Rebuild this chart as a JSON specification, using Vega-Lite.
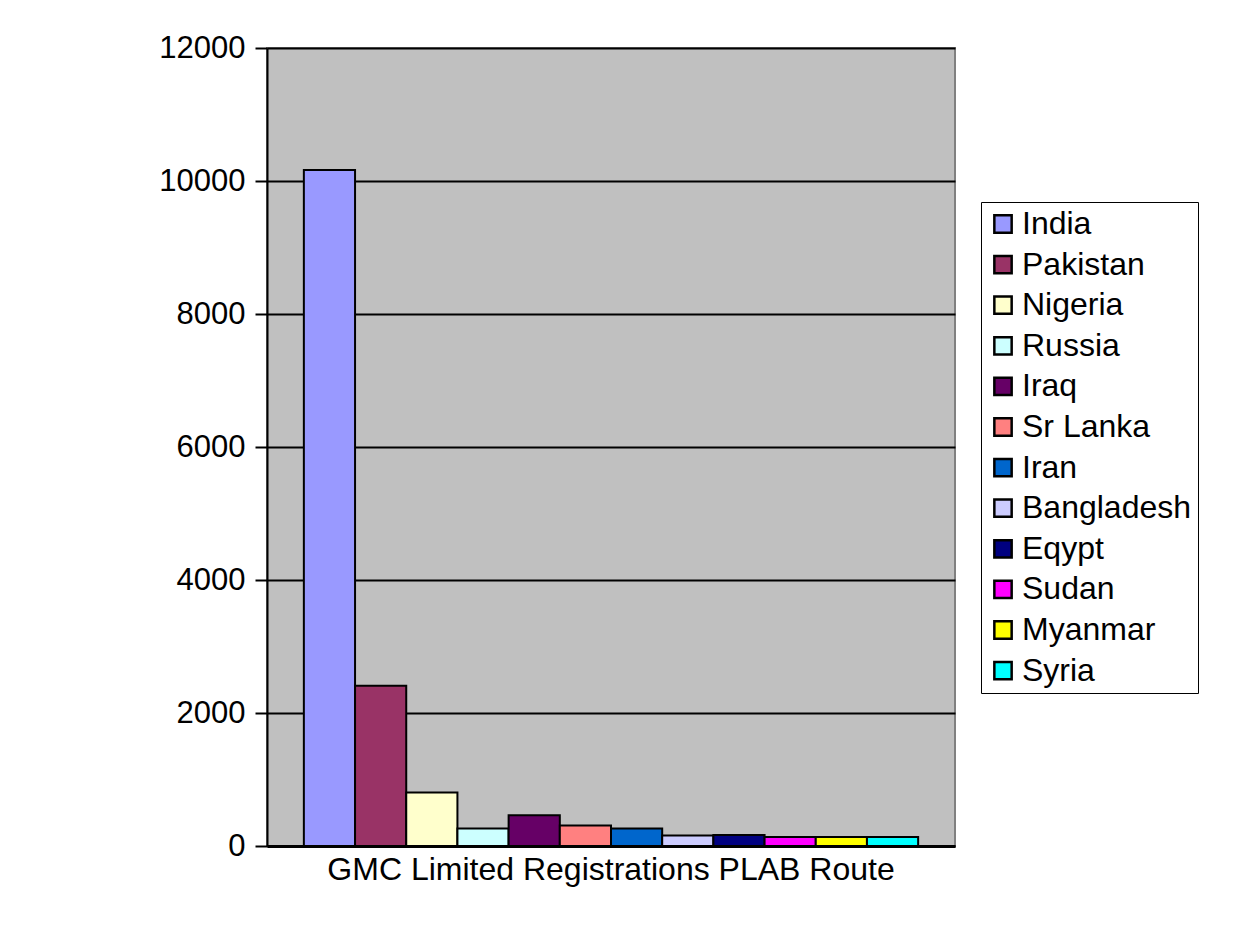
{
  "$schema": "https://vega.github.io/schema/vega-lite/v6.json",
  "autosize": {"type": "none"},
  "padding": {"left": 267, "top": 48, "right": 281, "bottom": 80},
  "width": 688,
  "height": 798,
  "background": "white",
  "config": {
    "view": {"fill": "#C0C0C0", "stroke": "#808080", "strokeWidth": 2},
    "font": "Liberation Sans"
  },
  "data": {
    "values": [
      {"route": "GMC Limited Registrations PLAB Route", "country": "India", "count": 10165},
      {"route": "GMC Limited Registrations PLAB Route", "country": "Pakistan", "count": 2410},
      {"route": "GMC Limited Registrations PLAB Route", "country": "Nigeria", "count": 805},
      {"route": "GMC Limited Registrations PLAB Route", "country": "Russia", "count": 263},
      {"route": "GMC Limited Registrations PLAB Route", "country": "Iraq", "count": 461},
      {"route": "GMC Limited Registrations PLAB Route", "country": "Sr Lanka", "count": 309},
      {"route": "GMC Limited Registrations PLAB Route", "country": "Iran", "count": 263},
      {"route": "GMC Limited Registrations PLAB Route", "country": "Bangladesh", "count": 157},
      {"route": "GMC Limited Registrations PLAB Route", "country": "Eqypt", "count": 167},
      {"route": "GMC Limited Registrations PLAB Route", "country": "Sudan", "count": 137},
      {"route": "GMC Limited Registrations PLAB Route", "country": "Myanmar", "count": 137},
      {"route": "GMC Limited Registrations PLAB Route", "country": "Syria", "count": 137}
    ]
  },
  "mark": {"type": "bar", "stroke": "black", "strokeWidth": 2},
  "encoding": {
    "x": {
      "field": "route",
      "type": "nominal",
      "scale": {"paddingInner": 0, "paddingOuter": 0.06},
      "axis": {
        "title": null,
        "labelAngle": 0,
        "labelFontSize": 32,
        "labelColor": "black",
        "labelLimit": 1000,
        "ticks": false,
        "domainColor": "black",
        "domainWidth": 3,
        "labelPadding": 8
      }
    },
    "xOffset": {
      "field": "country",
      "type": "nominal",
      "sort": ["India", "Pakistan", "Nigeria", "Russia", "Iraq", "Sr Lanka", "Iran", "Bangladesh", "Eqypt", "Sudan", "Myanmar", "Syria"],
      "scale": {"paddingInner": 0, "paddingOuter": 0}
    },
    "y": {
      "field": "count",
      "type": "quantitative",
      "scale": {"domain": [0, 12000]},
      "axis": {
        "title": null,
        "format": "d",
        "values": [0, 2000, 4000, 6000, 8000, 10000, 12000],
        "grid": true,
        "gridColor": "black",
        "gridWidth": 2,
        "gridOpacity": 1,
        "domainColor": "black",
        "domainWidth": 2,
        "tickColor": "black",
        "tickWidth": 2,
        "tickSize": 12,
        "labelPadding": 10,
        "labelFontSize": 31,
        "labelColor": "black"
      }
    },
    "color": {
      "field": "country",
      "type": "nominal",
      "sort": ["India", "Pakistan", "Nigeria", "Russia", "Iraq", "Sr Lanka", "Iran", "Bangladesh", "Eqypt", "Sudan", "Myanmar", "Syria"],
      "scale": {
        "domain": ["India", "Pakistan", "Nigeria", "Russia", "Iraq", "Sr Lanka", "Iran", "Bangladesh", "Eqypt", "Sudan", "Myanmar", "Syria"],
        "range": ["#9999FF", "#993366", "#FFFFCC", "#CCFFFF", "#660066", "#FF8080", "#0066CC", "#CCCCFF", "#000080", "#FF00FF", "#FFFF00", "#00FFFF"]
      },
      "legend": {
        "orient": "none",
        "legendX": 714,
        "legendY": 154,
        "title": null,
        "symbolType": "square",
        "symbolSize": 300,
        "symbolStrokeColor": "black",
        "symbolStrokeWidth": 2.5,
        "symbolOpacity": 1,
        "labelFontSize": 32,
        "labelColor": "black",
        "labelLimit": 400,
        "labelOffset": 3,
        "rowPadding": 8.6,
        "padding": 6,
        "strokeColor": "black",
        "fillColor": "white"
      }
    }
  }
}
